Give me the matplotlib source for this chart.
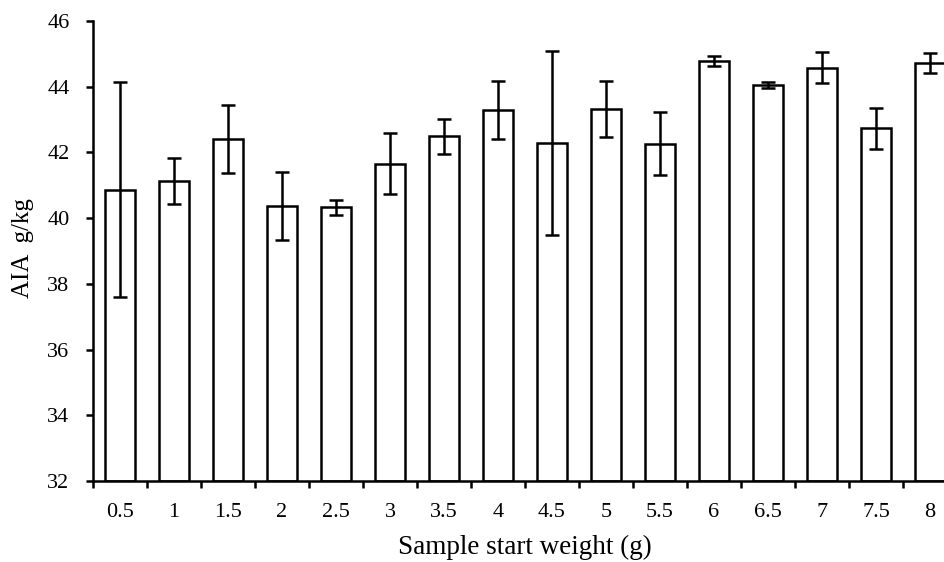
import numpy as np
import matplotlib.pyplot as plt

plt.rcParams['font.family'] = ['Liberation Serif', 'DejaVu Serif']

# Sample start weight (g) and AIA (g/kg)
weights = ["0.5", "1", "1.5", "2", "2.5", "3", "3.5", "4",
           "4.5", "5", "5.5", "6", "6.5", "7", "7.5", "8"]
aia_mean = [40.87, 41.12, 42.40, 40.37, 40.33, 41.66, 42.49, 43.28,
            42.28, 43.32, 42.27, 44.79, 44.05, 44.58, 42.73, 44.72]
aia_err = [3.26, 0.70, 1.03, 1.03, 0.23, 0.93, 0.54, 0.88,
           2.80, 0.85, 0.97, 0.15, 0.10, 0.48, 0.62, 0.31]

lw = 1.8

fig = plt.figure(figsize=(9.44, 5.62), dpi=100)
# axes runs a bit past the right edge, as in the cropped original
ax = fig.add_axes([93 / 944, 81 / 562, 864 / 944, 460 / 562])

x = np.arange(len(weights))
ax.bar(x, np.array(aia_mean) - 32, bottom=32, width=0.56,
       color="white", edgecolor="black", linewidth=lw,
       yerr=aia_err, error_kw=dict(ecolor="black", elinewidth=lw,
                                   capsize=4.8, capthick=lw))

ax.set_xlim(-0.5, len(weights) - 0.5)
ax.set_ylim(32, 46)
ax.set_yticks(np.arange(32, 47, 2))

# tick marks between categories, labels centred under the bars
ax.set_xticks(np.arange(-0.5, len(weights), 1.0))
ax.set_xticklabels([])
ax.set_xticks(x, minor=True)
ax.set_xticklabels(weights, minor=True)
ax.tick_params(axis="x", which="major", direction="out", length=5, width=lw)
ax.tick_params(axis="x", which="minor", length=0, pad=16, labelsize=16)
ax.tick_params(axis="y", direction="out", length=5, width=lw, pad=12, labelsize=16)

for side in ["top", "right"]:
    ax.spines[side].set_visible(False)
for side in ["left", "bottom"]:
    ax.spines[side].set_linewidth(lw)

ax.set_xlabel("Sample start weight (g)", fontsize=19.5, labelpad=9)
fig.text(23 / 944, 1 - 248 / 562, "AIA  g/kg", fontsize=18, rotation=90,
         ha="center", va="center")

fig.savefig("out.png", dpi=100)
